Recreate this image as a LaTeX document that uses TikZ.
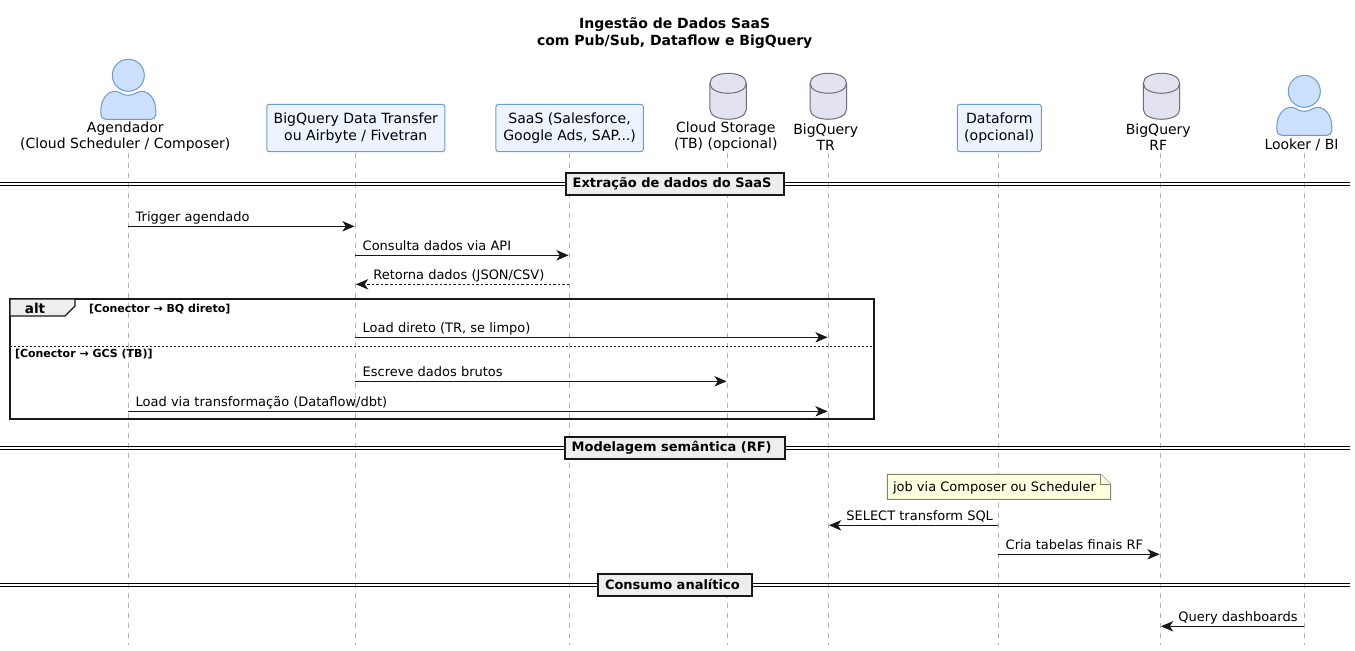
\documentclass[tikz,border=0pt]{standalone}
\usepackage{fontspec}
\setmainfont{DejaVu Sans}
\usetikzlibrary{arrows.meta}
\definecolor{boxfill}{HTML}{EEF4FF}
\definecolor{boxline}{HTML}{6A9BD3}
\definecolor{actorfill}{HTML}{CCE0FF}
\definecolor{cylfill}{HTML}{E2E2F0}
\definecolor{cylline}{HTML}{6E6E76}
\definecolor{lifecol}{HTML}{B4B4B4}
\definecolor{notefill}{HTML}{FEFFDD}
\definecolor{noteline}{HTML}{85856E}
\definecolor{divfill}{HTML}{EEEEEE}
\definecolor{ink}{HTML}{181818}
\tikzset{
  txt/.style={inner sep=0pt,outer sep=0pt,align=center,text=black,font=\fontsize{9.75}{11.5}\selectfont},
  parttxt/.style={txt,font=\fontsize{10.5}{12.2}\selectfont},
  partbox/.style={txt,font=\fontsize{10.55}{12.2}\selectfont,draw=boxline,fill=boxfill,line width=.75pt,rounded corners=1.9pt,minimum height=35.5pt},
  lifeline/.style={draw=lifecol,line width=.75pt,dash pattern=on 3.75pt off 3.75pt},
  msgline/.style={draw=ink,line width=.75pt,-{Stealth[length=9.2pt,width=7.8pt,inset=2.6pt,color=ink]},shorten >=.5pt},
  retline/.style={msgline,dash pattern=on 1.9pt off 1.5pt},
  msglabel/.style={txt,anchor=base west},
  divline/.style={draw=black,line width=.75pt},
  divbox/.style={inner sep=0pt,outer sep=0pt,draw=ink,fill=divfill,line width=1.5pt,minimum height=16.6pt,anchor=center},
  divtxt/.style={txt,anchor=west,font=\fontsize{9.75}{11.5}\selectfont\bfseries},
  guard/.style={txt,anchor=west,font=\fontsize{8.25}{10}\selectfont\bfseries},
  actorpic/.pic={
    \draw[draw=boxline,fill=actorfill,line width=.75pt] (0,0) circle[radius=16];
    \draw[draw=boxline,fill=actorfill,line width=.75pt]
      (-22.5,44) .. controls (-25.5,44) and (-27.5,42) .. (-27.5,39) -- (-27.5,36)
      .. controls (-27.5,24) and (-21,16) .. (-13,16)
      .. controls (-9,16) and (-6,20) .. (0,20)
      .. controls (6,20) and (9,16) .. (13,16)
      .. controls (21,16) and (27.5,24) .. (27.5,36) -- (27.5,39)
      .. controls (27.5,42) and (25.5,44) .. (22.5,44) -- cycle;
  },
  cylpic/.pic={
    \draw[draw=cylline,fill=cylfill,line width=.75pt]
      (-18.2,10) .. controls (-18.2,-3.3) and (18.2,-3.3) .. (18.2,10)
      -- (18.2,36) .. controls (18.2,49.3) and (-18.2,49.3) .. (-18.2,36) -- cycle;
    \draw[draw=cylline,line width=.75pt]
      (-18.2,10) .. controls (-18.2,23.3) and (18.2,23.3) .. (18.2,10);
  }
}
\newcommand{\rmsg}[5]{%
  \coordinate (#1s) at (#2 |- 0,#4);
  \coordinate (#1e) at (#3 |- 0,#4);
  \draw[msgline] (#1s) -- (#1e);
  \node[msglabel] (#1) at ([shift={(7.4,-5)}]#1s) {#5};
}
\newcommand{\lmsg}[6][msgline]{%
  \coordinate (#2s) at (#3 |- 0,#5);
  \coordinate (#2e) at (#4 |- 0,#5);
  \draw[#1] (#2s) -- (#2e);
  \node[msglabel] (#2) at ([shift={(18,-5)}]#2e) {#6};
}
\newcommand{\sepbar}[4]{%
  \coordinate (#1l) at (0,#2);
  \coordinate (#1r) at (1350,#2);
  \draw[divline] ([yshift=1pt]#1l) -- ([yshift=1pt]#1r);
  \draw[divline] ([yshift=-1pt]#1l) -- ([yshift=-1pt]#1r);
  \node[divbox,minimum width=#3] (#1) at (675,#2) {};
  \node[divtxt] (#1t) at ([xshift=5pt,yshift=.3pt]#1.west) {#4};
}
\begin{document}
\begin{tikzpicture}[x=.75pt,y=-.75pt]
\useasboundingbox (0,0) rectangle (1355,650);
\fill[white] (0,0) rectangle (1355,650);
% lifeline anchors
\coordinate (pa) at (128.3,152.5);
\coordinate (pb) at (355.3,152.5);
\coordinate (pc) at (569.3,152.5);
\coordinate (pd) at (727.3,152.5);
\coordinate (pe) at (828.3,152.5);
\coordinate (pf) at (998.3,152.5);
\coordinate (pg) at (1160.3,152.5);
\coordinate (ph) at (1304.3,152.5);
\foreach \p in {pa,pb,pc,pd,pe,pf,pg,ph} \draw[lifeline] (\p) -- (\p |- 0,645);
% title
\node[txt,font=\fontsize{10.5}{12.7}\selectfont\bfseries] (title) at (674.7,32.6) {Ingestão de Dados SaaS\\com Pub/Sub, Dataflow e BigQuery};
% participants
\pic at (128.3,75.3) {actorpic};
\node[parttxt] (la) at (125.3,137) {Agendador\\(Cloud Scheduler / Composer)};
\node[partbox,minimum width=133.5pt] (lb) at (355.8,128) {BigQuery Data Transfer\\ou Airbyte / Fivetran};
\node[partbox,minimum width=110.5pt] (lc) at (569.6,128) {SaaS (Salesforce,\\Google Ads, SAP...)};
\pic at (728.1,73.3) {cylpic};
\node[parttxt] (ld) at (725.8,137) {Cloud Storage\\(TB) (opcional)};
\pic at (828.3,73.3) {cylpic};
\node[parttxt] (le) at (825.8,137) {BigQuery\\TR};
\node[partbox,minimum width=63pt] (lf) at (999.3,128) {Dataform\\(opcional)};
\pic at (1161.5,73.3) {cylpic};
\node[parttxt] (lg) at (1158.3,137) {BigQuery\\RF};
\pic at (1304.3,91.3) {actorpic};
\node[parttxt,anchor=base] (lh) at (1301.5,149.5) {Looker / BI};
% section 1
\sepbar{sa}{183.9}{163.5pt}{Extração de dados do SaaS}
\rmsg{m1}{pa}{pb}{226.3}{Trigger agendado}
\rmsg{m2}{pb}{pc}{255.3}{Consulta dados via API}
\lmsg[retline]{m3}{pc}{pb}{284.3}{Retorna dados (JSON/CSV)}
% alt frame
\draw[draw=ink,line width=1.5pt] (10,299) rectangle (874.3,419.3);
\draw[draw=ink,fill=divfill,line width=1pt] (10,299) -- (75,299) -- (75,306) -- (65,316) -- (10,316) -- cycle;
\node[txt,font=\fontsize{10.2}{12.2}\selectfont\bfseries] (alt) at (35,308.5) {alt};
\node[guard] (g1) at (89,308.7) {[Conector → BQ direto]};
\draw[draw=ink,line width=.75pt,dash pattern=on 1.5pt off 1.5pt] (10,346.3) -- (874.3,346.3);
\node[guard] (g2) at (15,354.3) {[Conector → GCS (TB)]};
\rmsg{m4}{pb}{pe}{337.3}{Load direto (TR, se limpo)}
\rmsg{m5}{pb}{pd}{381.3}{Escreve dados brutos}
\rmsg{m6}{pa}{pe}{411.3}{Load via transformação (Dataflow/dbt)}
% section 2
\sepbar{sb}{448}{165pt}{Modelagem semântica (RF)}
\path[draw=noteline,fill=notefill,line width=.75pt] (887.3,474.3) -- (1100.7,474.3) -- (1110.7,484.3) -- (1110.7,499.3) -- (887.3,499.3) -- cycle;
\path[draw=noteline,fill=notefill,line width=.75pt] (1100.7,474.3) -- (1100.7,484.3) -- (1110.7,484.3);
\node[txt,anchor=base west] (note) at (893,491) {job via Composer ou Scheduler};
\lmsg{m7}{pf}{pe}{525.3}{SELECT transform SQL}
\rmsg{m8}{pf}{pg}{554.3}{Cria tabelas finais RF}
% section 3
\sepbar{sc}{584.9}{115pt}{Consumo analítico}
\lmsg{m9}{ph}{pg}{626.3}{Query dashboards}
\end{tikzpicture}
\end{document}
